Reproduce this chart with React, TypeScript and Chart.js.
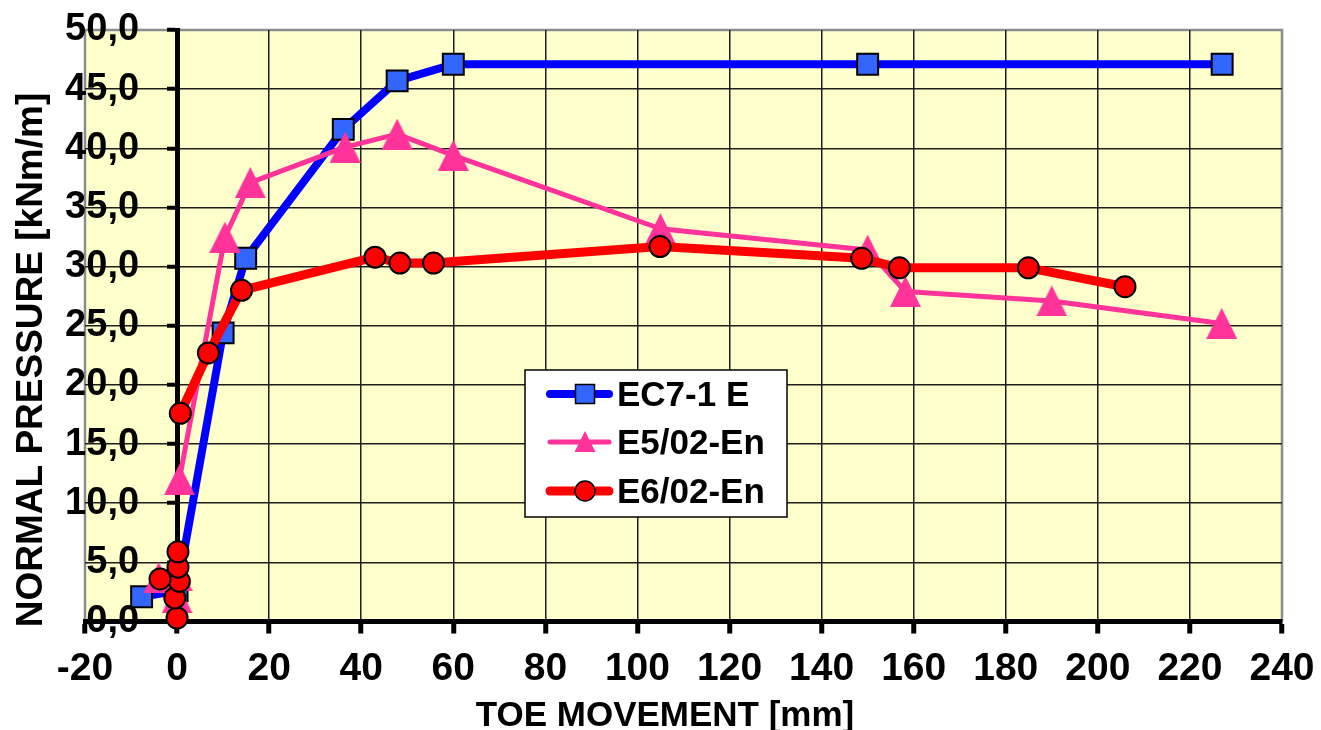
import React, { useEffect, useRef } from 'react';
import { Chart, registerables } from 'chart.js';

Chart.register(...registerables);

const FONT_FAMILY = "'Liberation Sans', Arial, Helvetica, sans-serif";

// EC7-1 E
const ec7X = [-7.7, 0.0, 10.0, 14.9, 36.1, 47.8, 60.0, 150.0, 227.0];
const ec7Y = [2.1, 2.6, 24.4, 30.7, 41.6, 45.7, 47.1, 47.1, 47.1];

// E5/02-En (null marks a break in the line)
const e5X = [0.0, -4.0, 0.0, null, 0.5, 10.4, 15.9, 36.5, 47.8, 60.0, 105.0, 150.0, 158.2, 190.0, 226.9];
const e5Y = [3.9, 3.7, 2.0, null, 12.0, 32.5, 37.1, 40.1, 41.2, 39.4, 33.2, 31.4, 27.9, 27.1, 25.2];

// E6/02-En (null marks a break in the line)
const e6X = [0.0, -0.5, 0.5, -3.7, 0.2, 0.2, null, 0.7, 6.8, 14.0, 43.0, 48.4, 55.7, 104.9, 148.7, 156.9, 184.9, 205.9];
const e6Y = [0.3, 2.0, 3.4, 3.6, 4.6, 5.9, null, 17.6, 22.7, 28.0, 30.8, 30.3, 30.3, 31.7, 30.7, 29.9, 29.9, 28.3];

const SERIES_LABELS = ['EC7-1 E', 'E5/02-En', 'E6/02-En'];
const X_TICKS = [-20, 0, 20, 40, 60, 80, 100, 120, 140, 160, 180, 200, 220, 240];
const Y_TICKS = [0, 5, 10, 15, 20, 25, 30, 35, 40, 45, 50];
const X_TITLE = 'TOE MOVEMENT [mm]';
const Y_TITLE = 'NORMAL PRESSURE [kNm/m]';

const BLUE_LINE = '#0000FF';
const BLUE_MARK = '#3366FF';
const PINK = '#FF3399';
const RED = '#FF0000';
const PLOT_BG = '#FFFFCC';

// the value axis crosses at x = 0; its labels keep a gap from the axis line
const Y_LABEL_GAP = '\u2002\u2002';

const toPoints = (xs: (number | null)[], ys: (number | null)[]) =>
  xs.map((x, i) => ({ x: x as number, y: ys[i] as number }));

function makeTriangle(w: number, h: number, color: string) {
  const c = document.createElement('canvas');
  c.width = w;
  c.height = h;
  const g = c.getContext('2d')!;
  g.fillStyle = color;
  g.beginPath();
  g.moveTo(w / 2, 0);
  g.lineTo(w, h);
  g.lineTo(0, h);
  g.closePath();
  g.fill();
  return c;
}

const hideEdge = (edges: number[]) => (c: any) =>
  c.tick && edges.includes(c.tick.value) ? 'rgba(0,0,0,0)' : '#1e1e1e';

const decorPlugin = {
  id: 'decor',
  beforeDraw(chart: any) {
    const { ctx, chartArea: ca, width, height } = chart;
    ctx.save();
    ctx.fillStyle = '#ffffff';
    ctx.fillRect(0, 0, width, height);
    ctx.fillStyle = PLOT_BG;
    ctx.fillRect(ca.left, ca.top, ca.right - ca.left, ca.bottom - ca.top);
    ctx.strokeStyle = '#8c8c8c';
    ctx.lineWidth = 2.5;
    ctx.beginPath();
    ctx.moveTo(ca.left, ca.bottom);
    ctx.lineTo(ca.left, ca.top);
    ctx.lineTo(ca.right, ca.top);
    ctx.lineTo(ca.right, ca.bottom);
    ctx.stroke();
    ctx.restore();
  },
  afterDraw(chart: any) {
    const { ctx, chartArea: ca } = chart;
    ctx.save();

    // axis titles
    ctx.fillStyle = '#000';
    ctx.font = `bold 35px ${FONT_FAMILY}`;
    ctx.textAlign = 'center';
    ctx.textBaseline = 'alphabetic';
    ctx.fillText(X_TITLE, 665, 726);

    ctx.save();
    ctx.translate(42, 360);
    ctx.rotate(-Math.PI / 2);
    ctx.font = `bold 37px ${FONT_FAMILY}`;
    ctx.fillText(Y_TITLE, 0, 0);
    ctx.restore();

    // legend box
    const lx = ca.left + 440;
    const ly = ca.top + 340;
    const lw = 262;
    const lh = 147;
    ctx.fillStyle = '#ffffff';
    ctx.fillRect(lx, ly, lw, lh);
    ctx.strokeStyle = '#000';
    ctx.lineWidth = 1.5;
    ctx.strokeRect(lx, ly, lw, lh);

    const rows = [24, 72, 121];
    const sx = lx + 60;
    chart.data.datasets.forEach((ds: any, i: number) => {
      const ry = ly + rows[i];
      ctx.strokeStyle = ds.borderColor;
      ctx.lineWidth = ds.borderWidth;
      ctx.lineCap = 'round';
      ctx.beginPath();
      ctx.moveTo(lx + 25, ry);
      ctx.lineTo(lx + 84, ry);
      ctx.stroke();

      if (i === 0) {
        ctx.fillStyle = BLUE_MARK;
        ctx.fillRect(sx - 9.5, ry - 9.5, 19, 19);
        ctx.strokeStyle = '#000';
        ctx.lineWidth = 1.5;
        ctx.strokeRect(sx - 9.5, ry - 9.5, 19, 19);
      } else if (i === 1) {
        ctx.fillStyle = PINK;
        ctx.beginPath();
        ctx.moveTo(sx, ry - 11);
        ctx.lineTo(sx + 10.5, ry + 10);
        ctx.lineTo(sx - 10.5, ry + 10);
        ctx.closePath();
        ctx.fill();
      } else {
        ctx.fillStyle = RED;
        ctx.beginPath();
        ctx.arc(sx, ry, 10, 0, Math.PI * 2);
        ctx.fill();
        ctx.strokeStyle = '#000';
        ctx.lineWidth = 1.5;
        ctx.stroke();
      }

      ctx.fillStyle = '#000';
      ctx.font = `bold 35px ${FONT_FAMILY}`;
      ctx.textAlign = 'left';
      ctx.textBaseline = 'alphabetic';
      ctx.fillText(ds.label, lx + 92, ry + 11.5);
    });

    ctx.restore();
  },
};

export default function App() {
  const canvasRef = useRef<HTMLCanvasElement | null>(null);

  useEffect(() => {
    const canvas = canvasRef.current;
    if (!canvas) return;
    const triangle = makeTriangle(31, 31, PINK);

    const chart = new Chart(canvas, {
      type: 'scatter',
      data: {
        datasets: [
          {
            label: SERIES_LABELS[0],
            data: toPoints(ec7X, ec7Y),
            showLine: true,
            borderColor: BLUE_LINE,
            borderWidth: 8,
            borderCapStyle: 'round',
            borderJoinStyle: 'round',
            pointStyle: 'rect',
            pointRadius: 14.8,
            pointBackgroundColor: BLUE_MARK,
            pointBorderColor: '#000',
            pointBorderWidth: 2,
            order: 3,
            clip: false,
          },
          {
            label: SERIES_LABELS[1],
            data: toPoints(e5X, e5Y),
            showLine: true,
            borderColor: PINK,
            borderWidth: 5,
            borderCapStyle: 'round',
            borderJoinStyle: 'round',
            pointStyle: triangle,
            pointRadius: 15,
            pointBackgroundColor: PINK,
            pointBorderColor: PINK,
            pointBorderWidth: 0,
            order: 2,
            clip: false,
          },
          {
            label: SERIES_LABELS[2],
            data: toPoints(e6X, e6Y),
            showLine: true,
            borderColor: RED,
            borderWidth: 9,
            borderCapStyle: 'round',
            borderJoinStyle: 'round',
            pointStyle: 'circle',
            pointRadius: 10.5,
            pointBackgroundColor: RED,
            pointBorderColor: '#000',
            pointBorderWidth: 2,
            order: 1,
            clip: false,
          },
        ] as any,
      },
      options: {
        animation: false,
        responsive: true,
        maintainAspectRatio: false,
        events: [],
        layout: { padding: { left: 85, right: 39, top: 30, bottom: 26 } },
        plugins: {
          legend: { display: false },
          tooltip: { enabled: false },
          title: { display: false },
        },
        scales: {
          x: {
            type: 'linear',
            min: X_TICKS[0],
            max: X_TICKS[X_TICKS.length - 1],
            position: 'bottom',
            afterBuildTicks: (s: any) => {
              s.ticks = X_TICKS.map((value) => ({ value }));
            },
            ticks: {
              color: '#000',
              font: { family: FONT_FAMILY, size: 39, weight: 'bold', lineHeight: 1.55 },
              padding: 5,
              maxRotation: 0,
              autoSkip: false,
            },
            grid: {
              color: hideEdge([X_TICKS[0], X_TICKS[X_TICKS.length - 1]]),
              lineWidth: 1.5,
              tickLength: 12,
              tickWidth: 5,
              tickColor: '#000',
            },
            border: { color: '#000', width: 5 },
          },
          y: {
            type: 'linear',
            min: Y_TICKS[0],
            max: Y_TICKS[Y_TICKS.length - 1],
            position: { x: 0 },
            afterBuildTicks: (s: any) => {
              s.ticks = Y_TICKS.map((value) => ({ value }));
            },
            ticks: {
              color: '#000',
              font: { family: FONT_FAMILY, size: 38, weight: 'bold' },
              padding: 0,
              autoSkip: false,
              callback: (v: any) => Number(v).toFixed(1).replace('.', ',') + Y_LABEL_GAP,
            },
            grid: {
              color: hideEdge([Y_TICKS[0], Y_TICKS[Y_TICKS.length - 1]]),
              lineWidth: 1.5,
              tickLength: 8,
              tickWidth: 4,
              tickColor: '#000',
            },
            border: { color: '#000', width: 5 },
          },
        },
      } as any,
      plugins: [decorPlugin],
    });

    return () => chart.destroy();
  }, []);

  return (
    <div style={{ position: 'absolute', left: 0, top: 0, width: 1321, height: 730, background: '#fff' }}>
      <canvas ref={canvasRef} />
    </div>
  );
}
